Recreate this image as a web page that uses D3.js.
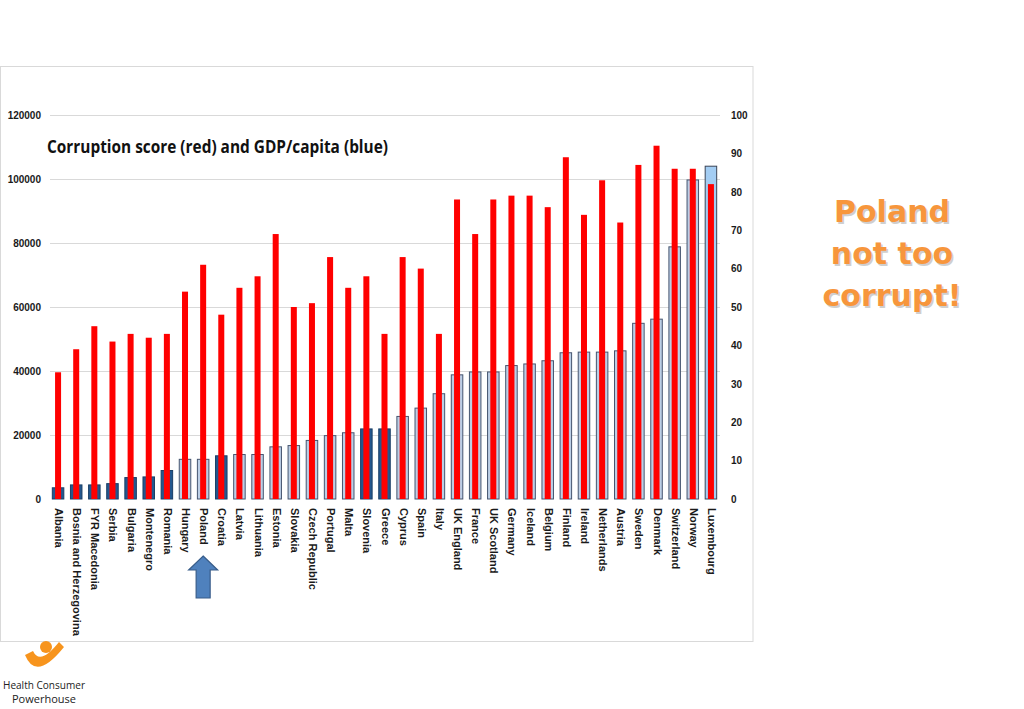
<!DOCTYPE html>
<html>
<head>
<meta charset="utf-8">
<script src="https://cdn.jsdelivr.net/npm/d3@7"></script>
<style>
  html, body { margin: 0; padding: 0; background: #ffffff; }
  svg { display: block; }
</style>
</head>
<body>
<svg id="chart" width="1024" height="709"></svg>
<script>
const countries = ["Albania","Bosnia and Herzegovina","FYR Macedonia","Serbia","Bulgaria","Montenegro","Romania","Hungary","Poland","Croatia","Latvia","Lithuania","Estonia","Slovakia","Czech Republic","Portugal","Malta","Slovenia","Greece","Cyprus","Spain","Italy","UK England","France","UK Scotland","Germany","Iceland","Belgium","Finland","Ireland","Netherlands","Austria","Sweden","Denmark","Switzerland","Norway","Luxembourg"];
const gdpPerCapita = [3500,4400,4400,4800,6700,6900,8900,12400,12400,13500,13900,13900,16300,16700,18300,19800,20700,21900,21900,25800,28400,32900,38800,39700,39700,41700,42200,43200,45700,45900,45900,46300,54900,56200,78800,99700,104000];
const corruptionScore = [33,39,45,41,43,42,43,54,61,48,55,58,69,50,51,63,55,58,43,63,60,43,78,69,78,79,79,76,89,74,83,72,87,92,86,86,82];
// bar shade group: 0 = dark blue, 1 = light blue, 2 = highlighted light blue
const barShade = [0,0,0,0,0,0,0,1,1,0,1,1,1,1,1,1,1,0,0,1,1,1,1,1,1,1,1,1,1,1,1,1,1,1,1,1,2];
const leftTicks = [0,20000,40000,60000,80000,100000,120000];
const rightTicks = [0,10,20,30,40,50,60,70,80,90,100];
const titleText = "Corruption score (red) and GDP/capita (blue)";
const calloutLines = ["Poland","not too","corrupt!"];
const logoLines = ["Health Consumer","Powerhouse"];

const svg = d3.select("#chart");
const axisFont = "'Liberation Sans', Arial, sans-serif";

// panel
svg.append("rect").attr("x",0.5).attr("y",66.5).attr("width",752.5).attr("height",575)
  .attr("fill","#ffffff").attr("stroke","#d9d9d9").attr("stroke-width",1);

const x = d3.scaleBand().domain(countries).range([49,720]).paddingInner(0.31).paddingOuter(0.155);
const yL = d3.scaleLinear().domain([0,120000]).range([499,115]);
const yR = d3.scaleLinear().domain([0,100]).range([499,115]);

// gridlines
svg.append("g").selectAll("line").data(leftTicks.filter(d=>d>0)).join("line")
  .attr("x1",50).attr("x2",720)
  .attr("y1",d=>Math.round(yL(d))+0.5).attr("y2",d=>Math.round(yL(d))+0.5)
  .attr("stroke","#d9d9d9").attr("stroke-width",1);

// left axis
const gL = svg.append("g").attr("transform","translate(45,0)")
  .call(d3.axisLeft(yL).tickValues(leftTicks).tickSize(0).tickPadding(4).tickFormat(d3.format("d")));
gL.select(".domain").remove();
gL.selectAll("text").attr("font-family",axisFont).attr("font-weight","bold").attr("font-size",10).attr("fill","#1a1a1a");

// right axis
const gR = svg.append("g").attr("transform","translate(727,0)")
  .call(d3.axisRight(yR).tickValues(rightTicks).tickSize(0).tickPadding(4).tickFormat(d3.format("d")));
gR.select(".domain").remove();
gR.selectAll("text").attr("font-family",axisFont).attr("font-weight","bold").attr("font-size",10).attr("fill","#1a1a1a");

// title
svg.append("text").attr("x",47).attr("y",153).text(titleText)
  .attr("font-family","'Open Sans', Lato, sans-serif").attr("font-weight","bold").attr("font-size",18)
  .attr("textLength",341).attr("lengthAdjust","spacingAndGlyphs").attr("fill","#111");

// blue bars
const fills = ["#23588f","#bccfe6","#a3cdf3"];
const strokes = ["#1b3f66","#46556f","#3a4456"];
const bw = x.bandwidth();
svg.append("g").selectAll("rect").data(countries).join("rect")
  .attr("x",d=>x(d)+0.5).attr("width",bw-1)
  .attr("y",(d,i)=>yL(gdpPerCapita[i])).attr("height",(d,i)=>yL(0)-yL(gdpPerCapita[i]))
  .attr("fill",(d,i)=>fills[barShade[i]]).attr("stroke",(d,i)=>strokes[barShade[i]]).attr("stroke-width",1);

// red bars
const rw = bw*0.48;
svg.append("g").selectAll("rect").data(countries).join("rect")
  .attr("x",d=>x(d)+bw/2-rw/2).attr("width",rw)
  .attr("y",(d,i)=>yR(corruptionScore[i])).attr("height",(d,i)=>yR(0)-yR(corruptionScore[i]))
  .attr("fill","#ff0000");

// x labels
svg.append("g").selectAll("text").data(countries).join("text")
  .attr("transform",d=>`translate(${x(d)+bw/2-3},508) rotate(90)`)
  .attr("font-family",axisFont).attr("font-weight","bold").attr("font-size",11).attr("fill","#1a1a1a")
  .text(d=>d);

// arrow under Poland
const ax = x("Poland")+bw/2;
const arrowPts = [[ax,556],[ax+14.5,570],[ax+7,570],[ax+7,598],[ax-7,598],[ax-7,570],[ax-14.5,570]];
svg.append("path").attr("d",d3.line()(arrowPts)+"Z")
  .attr("fill","#4f81bd").attr("stroke","#385d8a").attr("stroke-width",1.2);

// callout
const callout = svg.append("g");
const calloutFont = "'DejaVu Sans', Verdana, sans-serif";
calloutLines.forEach((t,i)=>{
  callout.append("text").attr("x",893.5).attr("y",222+i*42+1.5).attr("text-anchor","middle")
    .attr("font-family",calloutFont).attr("font-weight","bold").attr("font-size",30)
    .attr("fill","#c4c4c4").attr("opacity",0.8).text(t);
  callout.append("text").attr("x",892).attr("y",222+i*42).attr("text-anchor","middle")
    .attr("font-family",calloutFont).attr("font-weight","bold").attr("font-size",30)
    .attr("fill","#f7963c").text(t);
});

// logo
svg.append("circle").attr("cx",46).attr("cy",647).attr("r",6).attr("fill","#f7941d");
svg.append("path").attr("d","M25,655 Q36,682 64,647 L59,642 Q40,666 33,651 Z").attr("fill","#f7941d");
logoLines.forEach((t,i)=>{
  svg.append("text").attr("x",44).attr("y",689+i*14).attr("text-anchor","middle")
    .attr("font-family","'Open Sans', sans-serif").attr("font-size",11).attr("fill","#222")
    .attr("textLength", i===0?82:64).attr("lengthAdjust","spacingAndGlyphs").text(t);
});
</script>
</body>
</html>
